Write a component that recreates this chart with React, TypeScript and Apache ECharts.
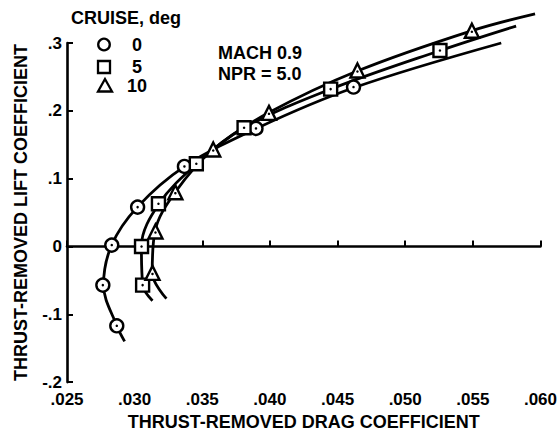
import React, { useEffect, useRef } from "react";
import * as echarts from "echarts";

// ---- data ----
const legendTitle = "CRUISE, deg";
const cruiseNames = ["0", "5", "10"];
const cruiseSymbols = ["circle", "rect", "triangle"];
const annotation = ["MACH 0.9", "NPR = 5.0"];

const xAxisTitle = "THRUST-REMOVED DRAG COEFFICIENT";
const yAxisTitle = "THRUST-REMOVED LIFT COEFFICIENT";

const xTickValues = [0.025, 0.03, 0.035, 0.04, 0.045, 0.05, 0.055, 0.06];
const xTickLabels = [".025", ".030", ".035", ".040", ".045", ".050", ".055", ".060"];
const yTickValues = [-0.2, -0.1, 0, 0.1, 0.2, 0.3];
const yTickLabels = ["-.2", "-.1", "0", ".1", ".2", ".3"];

// measured points [CD, CL]
const cruise0Points = [
  [0.02868, -0.117], [0.02765, -0.057], [0.02831, 0.002], [0.03022, 0.058],
  [0.03368, 0.118], [0.03897, 0.174], [0.04618, 0.235],
];
const cruise5Points = [
  [0.03059, -0.057], [0.03051, 0.0], [0.03176, 0.063], [0.03456, 0.122],
  [0.03809, 0.175], [0.04449, 0.232], [0.05257, 0.289],
];
const cruise10Points = [
  [0.03132, -0.039], [0.03154, 0.022], [0.03301, 0.08], [0.03581, 0.143],
  [0.03993, 0.197], [0.04647, 0.2595], [0.05493, 0.318],
];

// faired curves
const cruise0Curve = [
  [0.02926, -0.14], [0.02868, -0.117], [0.0277, -0.057], [0.0283, 0.002],
  [0.0302, 0.058], [0.0337, 0.118], [0.039, 0.174], [0.0462, 0.234], [0.0571, 0.3],
];
const cruise5Curve = [
  [0.03132, -0.08], [0.0306, -0.057], [0.0305, 0.0], [0.0318, 0.063],
  [0.0346, 0.122], [0.0381, 0.175], [0.0445, 0.232], [0.0526, 0.289], [0.0582, 0.325],
];
const cruise10Curve = [
  [0.03235, -0.077], [0.0313, -0.039], [0.0315, 0.022], [0.033, 0.08],
  [0.0358, 0.143], [0.0399, 0.197], [0.0465, 0.259], [0.0549, 0.318], [0.0596, 0.343],
];

const FONT = "'Liberation Sans', Arial, Helvetica, sans-serif";
const FS = 18;
const TICK_FS = 17;

function labelFor(values: number[], labels: string[], v: number) {
  let best = 0;
  for (let i = 1; i < values.length; i++) {
    if (Math.abs(values[i] - v) < Math.abs(values[best] - v)) best = i;
  }
  return labels[best];
}

export default function App() {
  const ref = useRef<HTMLDivElement>(null);
  useEffect(() => {
    document.body.style.margin = "0";
    if (!ref.current) return;
    const chart = echarts.init(ref.current, undefined, { renderer: "svg" });
    const points = [cruise0Points, cruise5Points, cruise10Points];
    const curves = [cruise0Curve, cruise5Curve, cruise10Curve];
    const series: any[] = [];
    curves.forEach((c, i) => {
      series.push({
        type: "line",
        name: cruiseNames[i] + " curve",
        data: c,
        smooth: 0.35,
        showSymbol: false,
        symbol: "none",
        clip: false,
        lineStyle: { color: "#000", width: 2.8 },
        z: 2,
        silent: true,
      });
    });
    points.forEach((p, i) => {
      series.push({
        type: "scatter",
        name: cruiseNames[i],
        data: p,
        symbol: cruiseSymbols[i],
        symbolSize: i === 2 ? 14 : 13,
        clip: false,
        itemStyle: { color: "#fff", borderColor: "#000", borderWidth: 2.4, opacity: 1 },
        z: 3,
      });
      series.push({
        type: "scatter",
        name: cruiseNames[i] + " dot",
        data: p,
        symbol: "circle",
        symbolSize: 2.5,
        clip: false,
        symbolOffset: i === 2 ? [0, 1] : [0, 0],
        itemStyle: { color: "#000", opacity: 1 },
        z: 4,
      });
    });

    const tri = (cx: number, cy: number) => [[cx, cy - 6.5], [cx - 7, cy + 6], [cx + 7, cy + 6]];
    const legendY = [44.5, 67, 85.5];
    const graphic: any[] = [
      {
        type: "text", x: 126, y: 18,
        style: { text: legendTitle, font: `bold ${FS}px ${FONT}`, fill: "#000", align: "center", verticalAlign: "middle" },
      },
      { type: "circle", shape: { cx: 104, cy: legendY[0], r: 5.8 }, style: { fill: "#fff", stroke: "#000", lineWidth: 2.3 } },
      { type: "rect", shape: { x: 98, y: legendY[1] - 6, width: 12, height: 12 }, style: { fill: "#fff", stroke: "#000", lineWidth: 2.3 } },
      { type: "polygon", shape: { points: tri(105, legendY[2]) }, style: { fill: "#fff", stroke: "#000", lineWidth: 2.3 } },
    ];
    cruiseNames.forEach((n, i) => {
      graphic.push({
        type: "text", x: 137, y: legendY[i],
        style: { text: n, font: `bold ${FS}px ${FONT}`, fill: "#000", align: "center", verticalAlign: "middle" },
      });
    });
    annotation.forEach((t, i) => {
      graphic.push({
        type: "text", x: 218, y: 53 + i * 20.5,
        style: { text: t, font: `bold ${FS}px ${FONT}`, fill: "#000", align: "left", verticalAlign: "middle" },
      });
    });

    chart.setOption({
      animation: false,
      backgroundColor: "#fff",
      grid: { left: 67, right: 17, top: 43, bottom: 50, containLabel: false },
      xAxis: {
        type: "value",
        min: 0.025, max: 0.06, interval: 0.005,
        name: xAxisTitle, nameLocation: "middle", nameGap: 30,
        nameTextStyle: { color: "#000", fontFamily: FONT, fontWeight: "bold", fontSize: FS },
        axisLine: { show: true, lineStyle: { color: "#000", width: 2.6 } },
        axisTick: { show: true, inside: true, length: 6, lineStyle: { color: "#000", width: 2 } },
        axisLabel: {
          color: "#000", fontFamily: FONT, fontWeight: "bold", fontSize: TICK_FS, margin: 9,
          formatter: (v: number) => labelFor(xTickValues, xTickLabels, v),
        },
        splitLine: { show: false },
      },
      yAxis: {
        type: "value",
        min: -0.2, max: 0.3, interval: 0.1,
        name: yAxisTitle, nameLocation: "middle", nameGap: 37,
        nameTextStyle: { color: "#000", fontFamily: FONT, fontWeight: "bold", fontSize: FS },
        axisLine: { show: true, lineStyle: { color: "#000", width: 2.6 } },
        axisTick: { show: true, inside: true, length: 6, lineStyle: { color: "#000", width: 2 } },
        axisLabel: {
          color: "#000", fontFamily: FONT, fontWeight: "bold", fontSize: TICK_FS, margin: 5,
          formatter: (v: number) => labelFor(yTickValues, yTickLabels, v),
        },
        splitLine: { show: false },
      },
      graphic,
      series,
    });
    return () => chart.dispose();
  }, []);
  return <div ref={ref} style={{ width: 560, height: 436 }} />;
}
